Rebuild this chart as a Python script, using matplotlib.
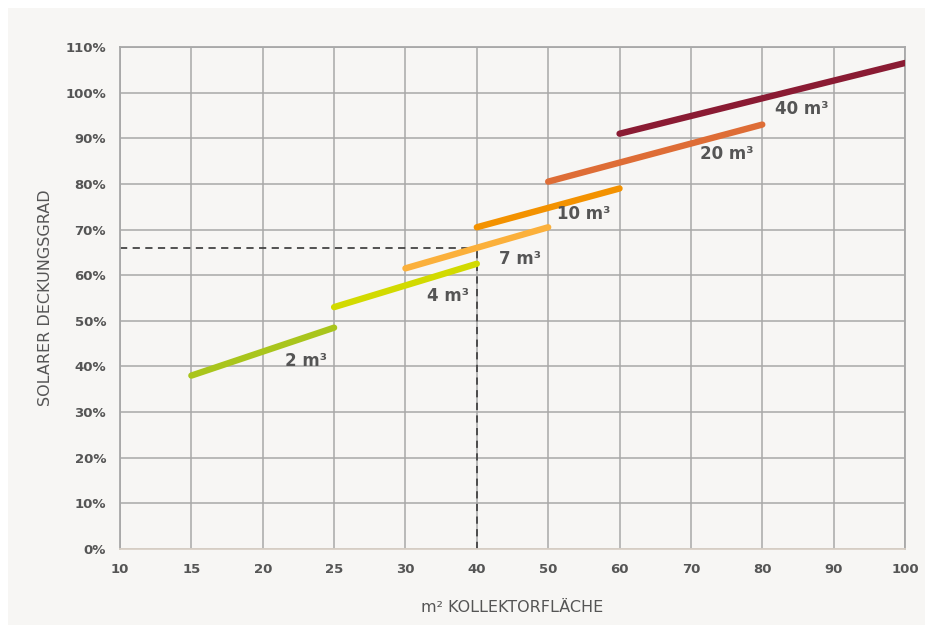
import numpy as np
import matplotlib.pyplot as plt
from matplotlib.patches import Rectangle

# x axis is not linear: equally spaced ticks
x_ticks = [10, 15, 20, 25, 30, 40, 50, 60, 70, 80, 90, 100]
y_ticks = [0, 10, 20, 30, 40, 50, 60, 70, 80, 90, 100, 110]

series_names = ["2 m³", "4 m³", "7 m³", "10 m³", "20 m³", "40 m³"]
series_x = [[15, 25], [25, 40], [30, 50], [40, 60], [50, 80], [60, 100]]
series_y = [[38, 48.5], [53, 62.5], [61.5, 70.5], [70.5, 79], [80.5, 93], [91, 106.5]]
series_colors = ["#a9c51c", "#d2da00", "#fbb03b", "#f39200", "#de6d36", "#8a1b33"]
label_pos = [(23.0, 41.2), (36.0, 55.5), (46.0, 63.5), (55.0, 73.5), (75.0, 86.5), (85.5, 96.5)]

# reading example: 40 m² -> 66 %
ref_x = 40
ref_y = 66

text_col = "#555555"
grid_col = "#a8a8a8"
bg_col = "#f7f6f4"


def xpos(v):
    return np.interp(v, x_ticks, np.arange(len(x_ticks)))


fig = plt.figure(figsize=(9.29, 6.29), dpi=100, facecolor="white")
fig.patches.append(Rectangle((8 / 929, 4 / 629), 917 / 929, 617 / 629,
                             transform=fig.transFigure, facecolor=bg_col,
                             edgecolor="none", zorder=-10))
ax = fig.add_axes([120 / 929, 1 - 549 / 629, 785 / 929, 502 / 629])
ax.set_facecolor(bg_col)

ax.set_xlim(0, len(x_ticks) - 1)
ax.set_ylim(0, 110)
ax.set_xticks(np.arange(len(x_ticks)))
ax.set_xticklabels([str(v) for v in x_ticks])
ax.set_yticks(y_ticks)
ax.set_yticklabels([f"{v}%" for v in y_ticks])
ax.grid(True, color=grid_col, linewidth=1.1)
ax.set_axisbelow(True)
ax.tick_params(length=0, colors=text_col, labelsize=9.5, pad=10)
for lab in ax.get_xticklabels() + ax.get_yticklabels():
    lab.set_fontweight("bold")
for side in ["top", "right", "left"]:
    ax.spines[side].set_color(grid_col)
    ax.spines[side].set_linewidth(1.3)
ax.spines["bottom"].set_color("#d8d0c6")
ax.spines["bottom"].set_linewidth(1.3)

# dashed reading lines
ax.plot([xpos(10), xpos(ref_x)], [ref_y, ref_y], color="#444444",
        linestyle=(0, (4, 3)), linewidth=1.3, zorder=2)
ax.plot([xpos(ref_x), xpos(ref_x)], [0, ref_y], color="#444444",
        linestyle=(0, (4, 3)), linewidth=1.3, zorder=2)

for name, xs, ys, col, (lx, ly) in zip(series_names, series_x, series_y,
                                        series_colors, label_pos):
    ax.plot(xpos(xs), ys, color=col, linewidth=4.6, solid_capstyle="round", zorder=3)
    ax.text(xpos(lx), ly, name, color=text_col, fontsize=12, fontweight="bold",
            ha="center", va="center", zorder=4)

ax.set_ylabel("SOLARER DECKUNGSGRAD", color=text_col, fontsize=11.5,
              fontweight="medium", labelpad=9)
ax.set_xlabel("m² KOLLEKTORFLÄCHE", color=text_col, fontsize=11.5,
              fontweight="medium", labelpad=17)

fig.savefig("out.png", dpi=100, facecolor=fig.get_facecolor())
